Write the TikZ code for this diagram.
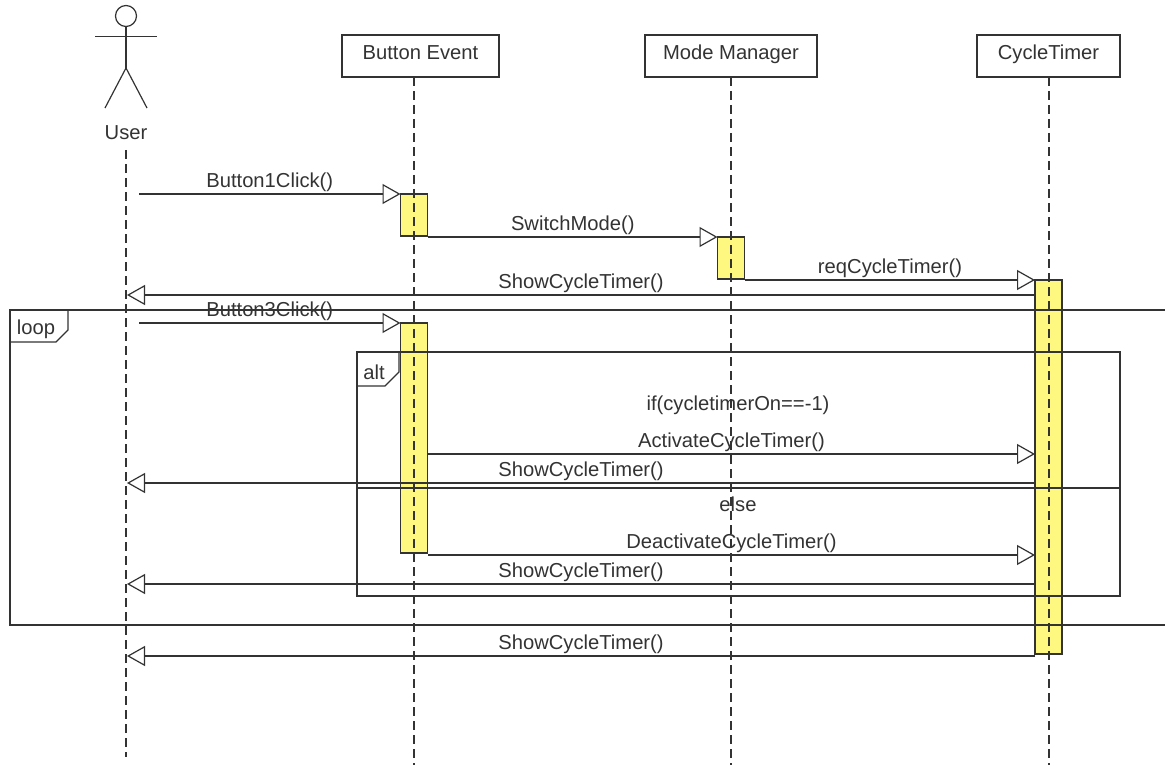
\documentclass[tikz,border=0pt]{standalone}
\usepackage{fontspec}
\setmainfont{Liberation Sans}
\usetikzlibrary{arrows.meta}

\begin{document}
\begin{tikzpicture}
  [x=1pt,y=-1pt,line width=1.2pt,color=black!80,text=black!80,font=\fontsize{20.2}{24}\selectfont,
   actor/.style={draw,fill=white,minimum height=42pt,text height=14pt,text depth=6pt,inner sep=0pt,outer sep=0pt},
   lifeline/.style={dash pattern=on 9pt off 5pt},
   bar/.style={draw,fill=yellow!50,minimum width=27pt,inner sep=0pt,outer sep=0pt},
   msg/.style={-{Triangle[open,length=18pt,width=20pt,fill=white]}},
   msglabel/.style={above,inner sep=0pt,yshift=2pt},
   frametag/.style={inner sep=0pt}]
  \useasboundingbox (0,0) rectangle (1165,765);

  \node[actor,minimum width=157pt] (button) at (420.5,56)  {Button Event};
  \node[actor,minimum width=172pt] (mode)   at (731,56)    {Mode Manager};
  \node[actor,minimum width=143pt] (timer)  at (1048.5,56) {CycleTimer};

  % stick figure
  \node[draw,circle,minimum size=21pt,inner sep=0pt,outer sep=0pt] (head) at (126,16) {};
  \coordinate (hip) at (126,68);
  \coordinate (armL) at (95,36.5);
  \coordinate (armR) at (157,36.5);
  \coordinate (legL) at (105,108);
  \coordinate (legR) at (147,108);
  \node (user) at (126,133) {User};
  \draw (head.south) -- (hip);
  \draw (armL) -- (armR);
  \draw (legL) -- (hip) -- (legR);

  % activation bars
  \node[bar,minimum height=42pt]  (a1) at (414,215)    {};
  \node[bar,minimum height=42pt]  (a2) at (731,258)    {};
  \node[bar,minimum height=374pt] (a3) at (1048.5,467) {};
  \node[bar,minimum height=230pt] (a4) at (414,438)    {};

  % lifelines
  \coordinate (userTop) at (126,150);
  \coordinate (userEnd) at (126,757);
  \coordinate (buttonEnd) at (414,765);
  \coordinate (modeEnd) at (731,765);
  \coordinate (timerEnd) at (1049,765);
  \coordinate (buttonTop) at (414,77);
  \coordinate (timerTop) at (1049,77);
  \foreach \from/\to in {userTop/userEnd,buttonTop/buttonEnd,mode.south/modeEnd,timerTop/timerEnd}
    \draw[lifeline] (\from) -- (\to);

  % frames
  \coordinate (loopA) at (1165,310);
  \coordinate (loopB) at (10,310);
  \coordinate (loopC) at (10,625);
  \coordinate (loopD) at (1165,625);
  \coordinate (loopE) at (68,310);
  \coordinate (loopF) at (68,330);
  \coordinate (loopG) at (56,342);
  \coordinate (loopH) at (10,342);
  \draw (loopA) -- (loopB) -- (loopC) -- (loopD);
  \draw (loopE) -- (loopF) -- (loopG) -- (loopH);
  \node[frametag] (loopTag) at (36,329) {loop};

  \coordinate (altA) at (357,352);
  \coordinate (altB) at (1120,352);
  \coordinate (altC) at (1120,596);
  \coordinate (altD) at (357,596);
  \coordinate (altE) at (399,352);
  \coordinate (altF) at (399,372);
  \coordinate (altG) at (385,386);
  \coordinate (altH) at (357,386);
  \coordinate (elseL) at (357,488);
  \coordinate (elseR) at (1120,488);
  \draw (altA) -- (altB) -- (altC) -- (altD) -- cycle;
  \draw (altE) -- (altF) -- (altG) -- (altH);
  \draw (elseL) -- (elseR);
  \node[frametag] (altTag) at (374,372) {alt};
  \node[frametag] (ifTag) at (738,405) {if(cycletimerOn==-1)};
  \node[frametag] (elseTag) at (738,504) {else};

  % message ends
  \coordinate (u1) at (139,194);
  \coordinate (u2) at (139,323);
  \coordinate (b0) at (428,237);
  \coordinate (c0) at (745,280);
  \coordinate (b1) at (428,454);
  \coordinate (b2) at (428,555);
  \coordinate (t1) at (1035,454);
  \coordinate (t2) at (1035,555);
  \coordinate (s1) at (1035,295);
  \coordinate (s2) at (1035,483);
  \coordinate (s3) at (1035,584);
  \coordinate (s4) at (1035,656);
  \coordinate (r1) at (127,295);
  \coordinate (r2) at (127,483);
  \coordinate (r3) at (127,584);
  \coordinate (r4) at (127,656);

  \foreach \from/\to/\txt [count=\i] in {u1/a1.north west/Button1Click(),
      b0/a2.north west/SwitchMode(),
      c0/a3.north west/reqCycleTimer(),
      s1/r1/ShowCycleTimer(),
      u2/a4.north west/Button3Click(),
      b1/t1/ActivateCycleTimer(),
      s2/r2/ShowCycleTimer(),
      b2/t2/DeactivateCycleTimer(),
      s3/r3/ShowCycleTimer(),
      s4/r4/ShowCycleTimer()}
    \draw[msg] (\from) -- node[msglabel] (m\i) {\txt} (\to);
\end{tikzpicture}
\end{document}
